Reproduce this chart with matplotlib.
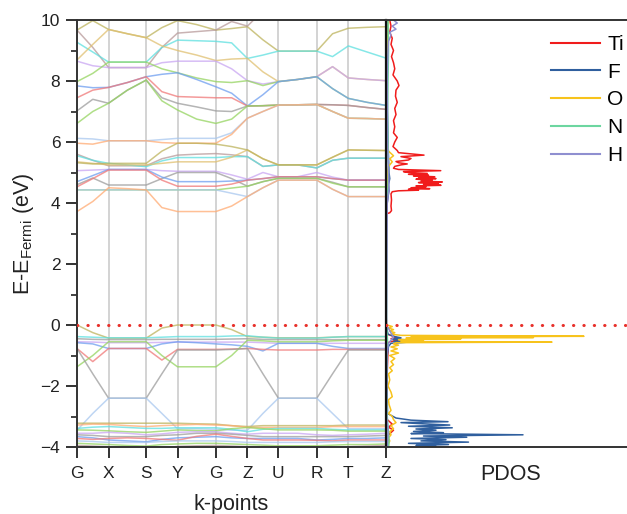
import matplotlib
matplotlib.use('Agg')
import matplotlib.pyplot as plt
from matplotlib.ticker import MultipleLocator

plt.rcParams['font.family'] = ['Liberation Sans', 'DejaVu Sans']

# high symmetry points along the path
k_labels = ['G', 'X', 'S', 'Y', 'G', 'Z', 'U', 'R', 'T', 'Z']
k_nodes = [0.0, 31.6, 69.3, 100.6, 139.0, 170.6, 201.6, 240.0, 271.6, 309.3]

# bands read at each node and halfway between nodes (19 samples)
# conduction bands
b_olive = [9.67, 9.98, 9.69, 9.55, 9.42, 9.75, 9.98, 9.85, 9.67, 9.72, 9.78, 9.35, 8.98, 8.98, 8.98, 9.55, 9.73, 9.76, 9.78]
b_brown = [9.67, 9.10, 8.44, 8.44, 8.44, 9.10, 9.57, 9.62, 9.67, 9.95, 9.80, 10.3, 10.5, 10.5, 10.5, 10.4, 10.2, 10.1, 10.05]
b_cyan = [9.27, 8.95, 8.62, 8.62, 8.62, 9.10, 9.34, 9.32, 9.30, 9.25, 8.74, 8.85, 8.98, 8.98, 8.98, 8.80, 9.15, 8.95, 8.75]
b_gold = [8.69, 9.20, 9.69, 9.55, 9.42, 9.15, 9.00, 8.85, 8.67, 8.72, 8.74, 8.30, 7.98, 8.05, 8.14, 8.47, 8.10, 8.05, 8.01]
b_purple = [8.65, 8.50, 8.44, 8.44, 8.44, 8.60, 8.65, 8.65, 8.65, 8.40, 8.01, 7.90, 7.98, 8.05, 8.14, 8.47, 8.10, 8.05, 8.01]
b_green = [7.98, 8.25, 8.62, 8.62, 8.62, 8.40, 8.27, 8.10, 7.98, 7.95, 8.01, 7.85, 7.98, 8.05, 8.14, 7.75, 7.43, 7.30, 7.20]
b_blue = [7.84, 7.78, 7.79, 7.95, 8.14, 8.22, 8.27, 8.05, 7.81, 7.60, 7.18, 7.55, 7.98, 8.05, 8.14, 7.75, 7.43, 7.30, 7.20]
b_red = [7.45, 7.70, 7.79, 7.95, 8.14, 7.65, 7.49, 7.47, 7.45, 7.45, 7.18, 7.19, 7.21, 7.22, 7.23, 7.22, 7.20, 7.13, 7.07]
b_gray = [7.02, 7.40, 7.27, 7.70, 8.03, 7.45, 7.27, 7.15, 7.02, 7.00, 7.18, 7.19, 7.21, 7.22, 7.23, 7.22, 7.20, 7.13, 7.07]
b_green2 = [6.61, 7.00, 7.27, 7.70, 8.03, 7.35, 7.05, 6.75, 6.61, 6.75, 7.18, 7.19, 7.21, 7.22, 7.23, 7.00, 6.78, 6.77, 6.75]
b_lblue = [6.12, 6.10, 6.04, 6.04, 6.04, 6.08, 6.12, 6.12, 6.12, 6.30, 6.78, 7.00, 7.21, 7.22, 7.23, 7.00, 6.78, 6.77, 6.75]
b_orange = [5.96, 5.93, 6.04, 6.04, 6.04, 5.98, 5.96, 5.96, 5.96, 6.25, 6.78, 7.00, 7.21, 7.22, 7.23, 7.00, 6.78, 6.77, 6.75]

c_brown = [5.60, 5.40, 5.22, 5.22, 5.22, 5.45, 5.57, 5.60, 5.62, 5.58, 5.52, 5.20, 5.25, 5.25, 5.15, 5.40, 5.47, 5.47, 5.47]
c_cyan = [5.55, 5.40, 5.30, 5.25, 5.19, 5.38, 5.49, 5.49, 5.49, 5.52, 5.52, 5.20, 5.25, 5.25, 5.15, 5.40, 5.47, 5.47, 5.47]
c_gold = [5.35, 5.30, 5.25, 5.25, 5.25, 5.30, 5.35, 5.35, 5.35, 5.50, 5.74, 5.45, 5.25, 5.25, 5.25, 5.50, 5.74, 5.73, 5.72]
c_olive = [5.32, 5.28, 5.30, 5.30, 5.30, 5.70, 5.96, 5.96, 5.93, 5.85, 5.74, 5.45, 5.25, 5.25, 5.25, 5.50, 5.74, 5.73, 5.72]
c_purple = [5.06, 5.08, 5.10, 5.10, 5.10, 5.06, 5.04, 5.04, 5.04, 4.92, 4.78, 5.00, 4.86, 4.86, 5.00, 4.85, 4.75, 4.75, 4.75]
c_gray = [4.60, 4.82, 4.59, 4.59, 4.59, 4.80, 5.00, 5.00, 5.00, 4.80, 4.55, 4.70, 4.81, 4.81, 4.81, 4.68, 4.53, 4.53, 4.53]
c_blue = [4.70, 4.90, 5.10, 5.10, 5.10, 4.85, 4.70, 4.70, 4.70, 4.72, 4.75, 4.80, 4.86, 4.86, 4.86, 4.80, 4.75, 4.75, 4.75]
c_red = [4.53, 4.80, 5.08, 5.08, 5.08, 4.75, 4.55, 4.55, 4.55, 4.62, 4.75, 4.80, 4.86, 4.86, 4.86, 4.80, 4.75, 4.75, 4.75]
c_green = [4.43, 4.43, 4.43, 4.43, 4.43, 4.43, 4.43, 4.43, 4.43, 4.49, 4.55, 4.70, 4.81, 4.81, 4.81, 4.65, 4.53, 4.53, 4.53]
c_lblue = [4.43, 4.43, 4.43, 4.43, 4.43, 4.43, 4.43, 4.43, 4.43, 4.32, 4.21, 4.50, 4.75, 4.75, 4.75, 4.45, 4.21, 4.21, 4.21]
c_orange = [3.72, 4.05, 4.50, 4.47, 4.43, 3.85, 3.72, 3.72, 3.72, 3.90, 4.21, 4.50, 4.75, 4.75, 4.75, 4.45, 4.21, 4.21, 4.21]

# valence bands
v_olive = [0.00, -0.25, -0.43, -0.43, -0.43, -0.10, 0.00, 0.00, 0.00, -0.15, -0.38, -0.40, -0.42, -0.42, -0.42, -0.40, -0.38, -0.38, -0.38]
v_cyan = [-0.38, -0.40, -0.42, -0.42, -0.42, -0.40, -0.38, -0.38, -0.38, -0.36, -0.35, -0.40, -0.43, -0.43, -0.43, -0.40, -0.38, -0.38, -0.38]
v_gray = [-0.45, -0.47, -0.48, -0.48, -0.48, -0.47, -0.47, -0.47, -0.47, -0.46, -0.45, -0.47, -0.48, -0.48, -0.48, -0.48, -0.48, -0.48, -0.48]
v_purple = [-0.55, -0.56, -0.58, -0.58, -0.58, -0.57, -0.56, -0.56, -0.56, -0.56, -0.56, -0.58, -0.60, -0.60, -0.60, -0.60, -0.60, -0.60, -0.60]
v_blue = [-0.58, -0.62, -0.77, -0.77, -0.77, -0.62, -0.55, -0.58, -0.62, -0.65, -0.70, -0.85, -0.60, -0.60, -0.60, -0.70, -0.77, -0.77, -0.77]
v_red = [-0.77, -1.20, -0.77, -0.77, -0.77, -1.15, -0.80, -0.80, -0.80, -0.79, -0.77, -0.80, -0.82, -0.82, -0.82, -0.80, -0.80, -0.80, -0.80]
v_green = [-1.37, -1.00, -0.55, -0.55, -0.55, -1.00, -1.37, -1.37, -1.37, -1.00, -0.50, -0.52, -0.55, -0.55, -0.55, -0.52, -0.50, -0.50, -0.50]
v_dgray = [-0.77, -1.60, -2.40, -2.40, -2.40, -1.60, -0.82, -0.82, -0.82, -0.80, -0.77, -1.60, -2.40, -2.40, -2.40, -1.60, -0.82, -0.82, -0.82]
v_lblue = [-3.45, -2.90, -2.40, -2.40, -2.40, -2.90, -3.40, -3.40, -3.42, -3.45, -3.45, -2.90, -2.40, -2.40, -2.40, -2.90, -3.40, -3.40, -3.40]
d_olive = [-3.22, -3.22, -3.22, -3.22, -3.22, -3.22, -3.22, -3.24, -3.25, -3.30, -3.33, -3.30, -3.30, -3.30, -3.30, -3.30, -3.28, -3.28, -3.28]
d_orange = [-3.28, -3.25, -3.26, -3.30, -3.33, -3.30, -3.28, -3.26, -3.28, -3.30, -3.36, -3.36, -3.36, -3.36, -3.36, -3.33, -3.33, -3.33, -3.33]
d_cyan = [-3.39, -3.35, -3.33, -3.36, -3.39, -3.39, -3.37, -3.37, -3.37, -3.42, -3.50, -3.42, -3.39, -3.39, -3.39, -3.42, -3.44, -3.44, -3.44]
d_green = [-3.44, -3.45, -3.47, -3.50, -3.52, -3.48, -3.44, -3.46, -3.47, -3.40, -3.36, -3.40, -3.44, -3.44, -3.44, -3.45, -3.48, -3.48, -3.48]
d_purple = [-3.55, -3.55, -3.52, -3.55, -3.60, -3.57, -3.52, -3.50, -3.50, -3.55, -3.58, -3.55, -3.55, -3.55, -3.60, -3.62, -3.60, -3.58, -3.55]
d_gray = [-3.60, -3.62, -3.66, -3.66, -3.66, -3.62, -3.60, -3.55, -3.55, -3.58, -3.62, -3.66, -3.66, -3.66, -3.66, -3.66, -3.66, -3.64, -3.62]
d_blue = [-3.66, -3.70, -3.77, -3.80, -3.83, -3.75, -3.70, -3.68, -3.66, -3.70, -3.72, -3.72, -3.72, -3.72, -3.77, -3.75, -3.72, -3.72, -3.70]
d_red = [-3.72, -3.75, -3.72, -3.70, -3.72, -3.75, -3.78, -3.65, -3.58, -3.65, -3.72, -3.77, -3.77, -3.77, -3.78, -3.80, -3.77, -3.77, -3.77]
d_lblue = [-3.80, -3.82, -3.85, -3.85, -3.85, -3.82, -3.80, -3.80, -3.80, -3.82, -3.85, -3.85, -3.85, -3.85, -3.85, -3.83, -3.82, -3.82, -3.82]
d_green2 = [-3.88, -3.90, -3.92, -3.95, -3.97, -3.92, -3.90, -3.88, -3.88, -3.90, -3.92, -3.94, -3.96, -3.96, -3.96, -3.94, -3.92, -3.92, -3.90]
d_brown = [-3.95, -3.97, -3.99, -4.05, -4.10, -4.05, -3.98, -3.96, -3.95, -3.97, -3.99, -4.05, -4.10, -4.10, -4.10, -4.05, -3.99, -3.97, -3.95]

# PDOS (energy, states)
ti_pdos = [(10.0, 0.15), (9.8, 0.2), (9.6, 0.15), (9.4, 0.25), (9.2, 0.2), (9.0, 0.3), (8.8, 0.22),
           (8.6, 0.3), (8.4, 0.35), (8.2, 0.28), (8.0, 0.45), (7.85, 0.52), (7.7, 0.4), (7.5, 0.38),
           (7.3, 0.45), (7.1, 0.35), (6.9, 0.4), (6.7, 0.3), (6.5, 0.35), (6.3, 0.3), (6.15, 0.45),
           (6.0, 0.35), (5.85, 0.28), (5.72, 0.45), (5.65, 0.5), (5.57, 1.52), (5.52, 0.6), (5.46, 1.0),
           (5.41, 0.9), (5.36, 0.4), (5.32, 0.5), (5.28, 0.85), (5.25, 0.6), (5.2, 0.35), (5.14, 0.3),
           (5.10, 0.5), (5.06, 2.19), (5.03, 0.7), (5.0, 0.9), (4.97, 1.65), (4.94, 0.9), (4.91, 1.7),
           (4.89, 1.1), (4.86, 1.95), (4.83, 1.3), (4.80, 2.0), (4.78, 1.2), (4.75, 1.85), (4.72, 1.4),
           (4.69, 2.25), (4.67, 1.3), (4.64, 2.1), (4.61, 1.5), (4.58, 2.2), (4.56, 1.2), (4.53, 1.6),
           (4.50, 1.0), (4.47, 1.75), (4.45, 0.9), (4.42, 1.3), (4.40, 0.5), (4.37, 0.25), (4.30, 0.2),
           (4.1, 0.22), (3.9, 0.2), (3.75, 0.22), (3.68, 0.15), (3.64, 0.0), (3.0, 0.0), (0.5, 0.0),
           (0.0, 0.02), (-0.3, 0.05), (-0.4, 0.4), (-0.45, 0.2), (-0.5, 0.5), (-0.55, 0.15), (-0.6, 0.05),
           (-0.8, 0.08), (-2.0, 0.03), (-3.1, 0.05), (-3.25, 0.25), (-3.35, 0.1), (-3.45, 0.3),
           (-3.6, 0.1), (-4.0, 0.05)]
f_pdos = [(10.0, 0.05), (9.0, 0.06), (8.0, 0.05), (7.0, 0.06), (6.0, 0.08), (5.5, 0.1), (5.0, 0.12),
          (4.8, 0.15), (4.6, 0.1), (4.4, 0.12), (4.2, 0.08), (4.0, 0.05), (3.6, 0.0), (0.0, 0.0),
          (-0.3, 0.08), (-0.38, 0.35), (-0.42, 0.6), (-0.46, 0.25), (-0.5, 1.12), (-0.53, 0.3),
          (-0.56, 0.9), (-0.6, 0.2), (-0.7, 0.1), (-1.0, 0.05), (-2.0, 0.04), (-2.9, 0.06),
          (-3.05, 0.4), (-3.12, 1.0), (-3.17, 2.48), (-3.2, 0.6), (-3.24, 1.5), (-3.28, 2.55),
          (-3.32, 0.9), (-3.37, 2.65), (-3.41, 1.2), (-3.45, 2.0), (-3.49, 1.1), (-3.53, 2.3),
          (-3.56, 1.0), (-3.6, 5.48), (-3.64, 1.5), (-3.68, 3.23), (-3.72, 1.0), (-3.76, 2.4),
          (-3.8, 1.4), (-3.84, 3.3), (-3.88, 0.9), (-3.92, 2.5), (-3.95, 1.2), (-3.98, 2.0), (-4.0, 1.6)]
o_pdos = [(10.0, 0.1), (9.5, 0.08), (9.0, 0.05), (8.0, 0.04), (7.0, 0.05), (6.0, 0.05), (5.7, 0.1),
          (5.55, 0.3), (5.45, 0.15), (5.35, 0.25), (5.2, 0.1), (5.0, 0.05), (4.8, 0.05), (4.5, 0.04),
          (4.0, 0.03), (3.7, 0.0), (0.05, 0.0), (0.0, 0.05), (-0.05, 0.25), (-0.1, 0.1), (-0.15, 0.3),
          (-0.2, 0.15), (-0.25, 0.35), (-0.3, 0.2), (-0.34, 0.6), (-0.37, 7.92), (-0.39, 1.0),
          (-0.41, 5.9), (-0.43, 0.8), (-0.45, 3.0), (-0.48, 0.5), (-0.51, 1.5), (-0.54, 0.6),
          (-0.56, 6.64), (-0.58, 0.4), (-0.62, 0.3), (-0.66, 0.5), (-0.72, 0.2), (-0.78, 0.45),
          (-0.85, 0.2), (-0.92, 0.5), (-1.0, 0.15), (-1.1, 0.35), (-1.2, 0.2), (-1.3, 0.3),
          (-1.4, 0.15), (-1.5, 0.25), (-1.6, 0.1), (-1.8, 0.15), (-2.0, 0.08), (-2.2, 0.2),
          (-2.35, 0.25), (-2.45, 0.1), (-2.6, 0.12), (-2.8, 0.2), (-2.9, 0.1), (-3.0, 0.25),
          (-3.1, 0.3), (-3.2, 0.4), (-3.3, 0.2), (-3.4, 0.3), (-3.5, 0.15), (-3.6, 0.2), (-3.7, 0.1),
          (-3.8, 0.15), (-3.9, 0.1), (-4.0, 0.1)]
n_pdos = [(10.0, 0.08), (9.0, 0.1), (8.0, 0.08), (7.0, 0.06), (6.0, 0.08), (5.0, 0.1), (4.5, 0.08),
          (4.0, 0.03), (0.0, 0.02), (-0.5, 0.06), (-1.0, 0.03), (-2.0, 0.02), (-3.0, 0.05),
          (-3.5, 0.1), (-3.8, 0.12), (-4.0, 0.1)]
h_pdos = [(10.0, 0.3), (9.9, 0.45), (9.8, 0.25), (9.7, 0.4), (9.6, 0.15), (9.5, 0.2), (9.3, 0.1),
          (9.0, 0.08), (8.5, 0.06), (8.0, 0.05), (7.0, 0.05), (6.0, 0.06), (5.0, 0.1), (4.5, 0.12),
          (4.0, 0.05), (0.0, 0.02), (-0.4, 0.3), (-0.5, 0.2), (-0.6, 0.1), (-1.0, 0.03), (-3.0, 0.03),
          (-3.5, 0.08), (-4.0, 0.05)]

col = {'olive': '#bdb35c', 'brown': '#b89a9a', 'cyan': '#5ee0e0', 'gold': '#e0c070',
       'purple': '#c9a6f2', 'green': '#95d460', 'blue': '#6e9ef0', 'red': '#f07878',
       'gray': '#9c9c9c', 'lblue': '#a9c8ef', 'orange': '#ffab73'}

bands = [(b_olive, 'olive'), (b_brown, 'brown'), (b_cyan, 'cyan'), (b_gold, 'gold'),
         (b_purple, 'purple'), (b_green, 'green'), (b_blue, 'blue'), (b_red, 'red'),
         (b_gray, 'gray'), (b_green2, 'green'), (b_lblue, 'lblue'), (b_orange, 'orange'),
         (c_brown, 'brown'), (c_cyan, 'cyan'), (c_gold, 'gold'), (c_olive, 'olive'),
         (c_purple, 'purple'), (c_gray, 'gray'), (c_blue, 'blue'), (c_red, 'red'),
         (c_green, 'green'), (c_lblue, 'lblue'), (c_orange, 'orange'),
         (v_olive, 'olive'), (v_cyan, 'cyan'), (v_gray, 'gray'), (v_purple, 'purple'),
         (v_blue, 'blue'), (v_red, 'red'), (v_green, 'green'), (v_dgray, 'gray'),
         (v_lblue, 'lblue'), (d_olive, 'olive'), (d_orange, 'orange'), (d_cyan, 'cyan'),
         (d_green, 'green'), (d_purple, 'purple'), (d_gray, 'gray'), (d_blue, 'blue'),
         (d_red, 'red'), (d_lblue, 'lblue'), (d_green2, 'green'), (d_brown, 'brown')]

# sample positions: each node plus the point halfway to the next one
k_path = []
for a, b in zip(k_nodes[:-1], k_nodes[1:]):
    k_path += [a, (a + b) / 2]
k_path.append(k_nodes[-1])

fig = plt.figure(figsize=(6.27, 5.14), dpi=100)
ax1 = fig.add_axes([77 / 627, 67 / 514, 309 / 627, 427 / 514])
ax2 = fig.add_axes([386 / 627, 67 / 514, 250 / 627, 427 / 514])

for k in k_nodes[1:-1]:
    ax1.axvline(k, color='#cccccc', lw=1.2, zorder=0)

for e, c in bands:
    ax1.plot(k_path, e, color=col[c], lw=1.1, alpha=0.75)

fermi = dict(color='#e8302a', lw=2.2, ls=(0, (0.1, 3.3)), dash_capstyle='round', zorder=5)
ax1.axhline(0, **fermi)
ax2.axhline(0, **fermi)

ax1.set_xlim(k_nodes[0], k_nodes[-1])
ax1.set_ylim(-4, 10)
ax1.set_xticks(k_nodes)
ax1.set_xticklabels(k_labels)
ax1.yaxis.set_major_locator(MultipleLocator(2))
ax1.yaxis.set_minor_locator(MultipleLocator(1))
ax1.tick_params(which='major', direction='out', length=8, width=1.3, labelsize=12.5, pad=4, colors='#222222')
ax1.tick_params(axis='x', which='major', pad=5.5)
ax1.tick_params(which='minor', direction='out', length=4.5, width=1.2, colors='#222222')
ax1.set_xlabel('k-points', fontsize=15.5, labelpad=9.5, color='#222222')
ax1.set_ylabel(r'E-E$_{\mathregular{Fermi}}$ (eV)', fontsize=15.5, labelpad=3, color='#222222')
ax1.spines['right'].set_visible(False)
for s in ['left', 'bottom', 'top']:
    ax1.spines[s].set_linewidth(1.4)
    ax1.spines[s].set_color('#333333')

pdos_sets = [(ti_pdos, '#f01c1c', 'Ti'), (f_pdos, '#2f5f9e', 'F'), (o_pdos, '#f7c31c', 'O'),
             (n_pdos, '#6cd6a0', 'N'), (h_pdos, '#8f8fd0', 'H')]
for data, c, lab in pdos_sets:
    e, v = zip(*data)
    ax2.plot(v, e, color=c, lw=1.1, label=lab)

ax2.set_xlim(0, 10)
ax2.set_ylim(-4, 10)
ax2.set_xticks([])
ax2.set_yticks([])
ax2.set_xlabel('PDOS', fontsize=15.5, labelpad=12, color='#222222')
ax2.spines['right'].set_visible(False)
ax2.spines['left'].set_linewidth(1.6)
ax2.spines['left'].set_color('#111111')
for s in ['top', 'bottom']:
    ax2.spines[s].set_linewidth(1.4)
    ax2.spines[s].set_color('#333333')

leg = ax2.legend(loc='upper left', bbox_to_anchor=(0.66, 0.965), frameon=False, fontsize=15,
                 handlelength=2.35, handletextpad=0.35, borderaxespad=0, borderpad=0,
                 labelspacing=0.42)
for line in leg.get_lines():
    line.set_linewidth(1.5)

fig.savefig('out.png', dpi=100)
